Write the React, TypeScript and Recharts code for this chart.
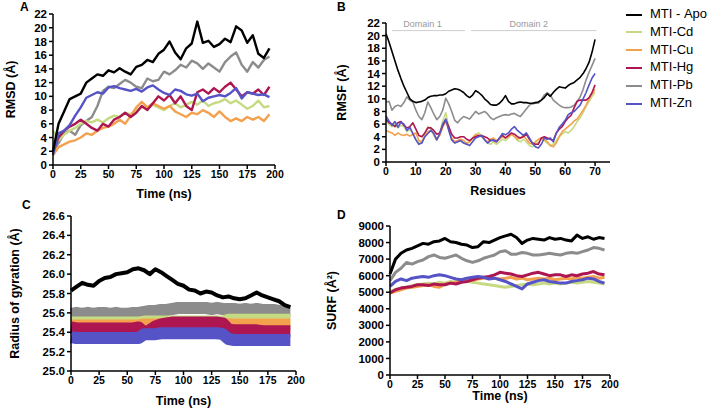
import { LineChart, Line, XAxis, YAxis, Legend, ReferenceLine } from 'recharts';

const FONT = '"Liberation Sans", Arial, Helvetica, sans-serif';

// simulation time (ns) for RMSD, Rg and SURF panels
const TIME_NS = [
  0, 5, 10, 15, 20, 25, 30, 35, 40, 45, 50, 55, 60, 65, 70, 75, 80, 85, 90, 95,
  100, 105, 110, 115, 120, 125, 130, 135, 140, 145, 150, 155, 160, 165, 170, 175, 180, 185, 190, 195,
];

// residue index for RMSF panel
const RESIDUES = [
  0, 1, 2, 3, 4, 5, 6, 7, 8, 9, 10, 11, 12, 13, 14, 15, 16, 17, 18, 19, 20, 21, 22, 23, 24, 25,
  26, 27, 28, 29, 30, 31, 32, 33, 34, 35, 36, 37, 38, 39, 40, 41, 42, 43, 44, 45, 46, 47, 48, 49,
  50, 51, 52, 53, 54, 55, 56, 57, 58, 59, 60, 61, 62, 63, 64, 65, 66, 67, 68, 69, 70,
];

// A: RMSD (Å)
const RMSD_APO = [2.0, 6.0, 7.8, 9.6, 10.0, 10.4, 12.0, 12.6, 13.2, 13.0, 13.8, 13.5, 14.1, 13.6, 13.2, 14.3, 14.6, 15.3, 15.0, 16.2, 16.8, 18.0, 16.4, 15.4, 17.0, 17.7, 20.9, 17.8, 18.1, 17.2, 17.6, 18.4, 17.9, 20.2, 19.6, 17.8, 18.9, 16.2, 15.6, 17.0];
const RMSD_CD = [5.0, 3.6, 4.4, 5.0, 5.4, 6.0, 6.4, 6.2, 6.6, 6.2, 6.8, 7.2, 7.0, 7.6, 7.4, 8.0, 8.4, 8.2, 8.8, 8.4, 8.0, 8.6, 9.0, 8.4, 8.8, 9.2, 8.8, 9.4, 8.6, 9.0, 9.2, 9.6, 9.0, 9.4, 8.8, 8.2, 8.6, 9.4, 8.4, 8.6];
const RMSD_CU = [1.4, 2.6, 3.0, 3.4, 3.6, 4.0, 4.6, 4.4, 5.0, 5.4, 5.6, 6.0, 6.6, 6.0, 7.2, 8.4, 9.2, 8.4, 9.0, 8.6, 8.2, 8.6, 7.8, 7.4, 7.0, 7.6, 7.4, 8.0, 7.6, 7.0, 7.8, 7.0, 6.4, 6.8, 6.4, 7.0, 6.6, 7.0, 6.4, 7.4];
const RMSD_HG = [2.0, 4.0, 5.0, 5.6, 6.0, 6.6, 6.0, 5.4, 5.0, 6.0, 5.6, 6.6, 7.0, 7.6, 7.0, 7.6, 8.6, 8.0, 9.0, 10.0, 9.4, 10.2, 9.0, 10.0, 8.6, 8.0, 10.6, 11.0, 10.4, 11.2, 10.6, 11.4, 12.0, 11.0, 10.0, 10.6, 10.4, 11.0, 10.2, 11.4];
const RMSD_PB = [2.0, 3.2, 4.6, 5.0, 4.4, 5.8, 6.4, 7.0, 8.6, 10.8, 11.4, 11.2, 11.8, 12.4, 12.0, 11.4, 11.2, 12.6, 12.2, 12.4, 13.6, 13.2, 13.8, 14.6, 14.2, 15.2, 14.8, 14.0, 14.8, 14.2, 13.6, 15.0, 15.8, 16.4, 14.6, 13.6, 15.0, 14.2, 15.3, 15.8];
const RMSD_ZN = [1.5, 4.6, 5.0, 5.8, 7.2, 8.4, 9.8, 10.2, 10.6, 10.4, 11.3, 11.5, 11.2, 11.0, 10.8, 11.1, 10.7, 11.3, 11.6, 11.0, 10.5, 10.2, 11.0, 10.8, 10.3, 10.1, 10.4, 9.3, 9.8, 10.0, 10.2, 10.0, 10.5, 11.2, 9.7, 10.6, 10.4, 10.2, 10.3, 9.9];

// B: RMSF (Å) per residue
const RMSF_APO = [20.3, 19.0, 17.5, 16.0, 14.5, 13.2, 12.0, 11.0, 10.0, 9.6, 9.4, 9.5, 9.6, 9.8, 10.2, 10.4, 10.5, 10.5, 10.6, 10.6, 10.8, 11.2, 11.4, 11.6, 11.5, 11.3, 11.0, 10.5, 10.2, 10.6, 11.3, 11.0, 10.6, 10.0, 9.6, 9.1, 9.0, 9.0, 9.3, 9.8, 10.5, 9.6, 9.2, 9.2, 9.4, 9.5, 9.4, 9.4, 9.3, 9.3, 9.4, 9.5, 9.8, 10.2, 10.8, 10.4, 11.0, 11.5, 11.9, 11.8, 11.7, 12.1, 12.4, 12.6, 13.0, 13.4, 14.0, 14.8, 15.8, 17.4, 19.4];
const RMSF_CD = [6.5, 6.0, 5.6, 6.0, 5.4, 5.8, 5.6, 4.8, 5.2, 4.5, 3.6, 3.0, 3.2, 4.5, 5.6, 5.4, 4.2, 3.4, 4.6, 6.5, 7.8, 5.5, 3.6, 3.0, 3.2, 3.4, 3.0, 2.8, 3.2, 3.6, 4.2, 4.6, 4.2, 3.6, 3.0, 2.8, 3.2, 2.8, 3.2, 3.6, 3.4, 3.8, 4.4, 4.0, 3.4, 3.2, 3.6, 3.2, 2.6, 2.4, 2.8, 3.2, 3.6, 3.4, 3.0, 2.6, 2.8, 3.4, 4.0, 4.4, 4.8, 4.6, 5.0, 5.6, 6.4, 7.0, 7.8, 8.8, 9.6, 10.4, 11.0];
const RMSF_CU = [5.0, 4.8, 4.6, 4.2, 4.6, 4.3, 4.2, 4.4, 4.1, 4.4, 4.6, 3.4, 3.2, 4.0, 4.8, 5.0, 4.5, 3.6, 4.2, 5.5, 6.5, 5.2, 3.8, 3.2, 3.4, 3.6, 3.4, 3.0, 3.2, 3.8, 4.4, 4.2, 4.0, 3.6, 3.2, 3.6, 3.8, 3.4, 3.6, 4.0, 3.8, 4.0, 4.4, 4.0, 3.6, 3.8, 4.2, 3.6, 3.0, 2.8, 3.2, 3.6, 3.8, 3.6, 3.2, 2.6, 2.4, 3.0, 4.0, 4.8, 5.2, 5.6, 6.0, 6.5, 6.8, 7.5, 8.2, 9.0, 10.0, 10.8, 11.5];
const RMSF_HG = [6.8, 6.2, 6.0, 5.6, 6.2, 6.4, 5.8, 5.4, 5.6, 6.2, 5.2, 4.2, 4.0, 4.6, 5.4, 5.4, 5.0, 4.4, 4.6, 5.8, 6.7, 5.6, 4.4, 3.8, 3.8, 4.0, 4.0, 3.6, 3.4, 3.8, 4.0, 4.2, 4.2, 4.0, 3.8, 3.4, 3.4, 3.2, 3.8, 4.2, 3.8, 4.2, 4.6, 4.4, 4.0, 3.8, 4.0, 4.4, 3.6, 3.0, 2.8, 2.8, 3.8, 4.0, 3.8, 3.6, 3.4, 4.6, 5.2, 5.6, 6.4, 7.0, 7.4, 8.6, 9.6, 9.8, 9.8, 9.8, 10.2, 11.0, 12.2];
const RMSF_PB = [9.5, 9.6, 8.2, 8.8, 9.0, 8.8, 9.4, 10.3, 9.8, 9.5, 8.2, 7.2, 6.7, 7.8, 9.5, 8.6, 7.6, 6.7, 7.2, 8.2, 10.1, 9.2, 8.0, 6.6, 6.2, 6.8, 7.2, 7.0, 6.8, 7.4, 8.0, 7.6, 7.8, 8.0, 7.6, 7.0, 6.7, 7.0, 7.2, 7.4, 7.5, 7.4, 7.6, 7.7, 7.4, 7.2, 7.8, 8.4, 9.0, 9.2, 9.3, 9.3, 9.8, 10.6, 11.0, 10.6, 9.8, 9.4, 9.0, 8.7, 8.6, 8.6, 8.7, 9.0, 9.6, 10.3, 11.5, 13.0, 14.2, 15.3, 16.4];
const RMSF_ZN = [7.3, 6.5, 5.8, 6.4, 5.5, 6.3, 6.0, 5.0, 5.5, 4.5, 3.5, 2.8, 3.0, 4.0, 4.5, 5.0, 4.5, 3.5, 4.5, 6.0, 6.8, 5.0, 3.5, 3.0, 3.2, 3.4, 3.0, 2.8, 2.6, 3.2, 3.8, 4.0, 4.2, 3.5, 3.0, 3.4, 3.5, 3.2, 3.8, 4.5, 4.3, 4.6, 5.2, 5.6, 5.0, 4.6, 4.2, 4.6, 3.8, 3.0, 2.4, 2.2, 2.8, 3.8, 3.6, 3.8, 3.2, 4.5, 5.5, 6.0, 6.6, 7.5, 7.8, 8.0, 8.5, 9.0, 10.0, 11.0, 12.2, 13.3, 14.0];

// C: radius of gyration (Å)
const RG_APO = [25.83, 25.87, 25.91, 25.89, 25.88, 25.93, 25.96, 25.97, 26.0, 26.01, 26.02, 26.05, 26.06, 26.04, 26.0, 26.05, 26.02, 25.98, 25.94, 25.9, 25.88, 25.84, 25.83, 25.8, 25.82, 25.81, 25.78, 25.76, 25.77, 25.75, 25.74, 25.75, 25.78, 25.81, 25.78, 25.76, 25.74, 25.72, 25.68, 25.66];
const RG_CD = [25.5, 25.5, 25.5, 25.5, 25.5, 25.5, 25.5, 25.5, 25.5, 25.5, 25.5, 25.5, 25.5, 25.51, 25.51, 25.51, 25.51, 25.51, 25.51, 25.51, 25.51, 25.51, 25.51, 25.51, 25.51, 25.51, 25.51, 25.51, 25.53, 25.53, 25.53, 25.53, 25.53, 25.53, 25.53, 25.53, 25.53, 25.53, 25.53, 25.53];
const RG_CU = [25.47, 25.47, 25.47, 25.47, 25.47, 25.47, 25.47, 25.47, 25.47, 25.47, 25.47, 25.47, 25.47, 25.48, 25.48, 25.48, 25.48, 25.48, 25.48, 25.48, 25.48, 25.48, 25.48, 25.48, 25.48, 25.48, 25.48, 25.48, 25.48, 25.48, 25.48, 25.48, 25.48, 25.48, 25.48, 25.48, 25.48, 25.48, 25.48, 25.48];
const RG_HG = [25.45, 25.44, 25.44, 25.44, 25.44, 25.44, 25.44, 25.44, 25.44, 25.44, 25.44, 25.44, 25.45, 25.4, 25.42, 25.46, 25.48, 25.49, 25.5, 25.5, 25.5, 25.5, 25.5, 25.5, 25.5, 25.5, 25.5, 25.49, 25.43, 25.42, 25.42, 25.42, 25.42, 25.42, 25.41, 25.41, 25.41, 25.41, 25.41, 25.41];
const RG_PB = [25.59, 25.6, 25.59, 25.6, 25.59, 25.6, 25.6, 25.59, 25.6, 25.59, 25.59, 25.6, 25.6, 25.61, 25.62, 25.62, 25.63, 25.63, 25.64, 25.65, 25.65, 25.65, 25.65, 25.65, 25.65, 25.64, 25.65, 25.64, 25.64, 25.64, 25.63, 25.64, 25.63, 25.64, 25.63, 25.63, 25.63, 25.62, 25.62, 25.62];
const RG_ZN = [25.35, 25.34, 25.34, 25.34, 25.34, 25.34, 25.34, 25.34, 25.34, 25.34, 25.34, 25.34, 25.34, 25.38, 25.38, 25.38, 25.39, 25.39, 25.39, 25.39, 25.39, 25.39, 25.39, 25.39, 25.39, 25.39, 25.39, 25.38, 25.33, 25.32, 25.32, 25.32, 25.32, 25.32, 25.32, 25.32, 25.32, 25.32, 25.32, 25.32];

// D: solvent accessible surface (Å²)
const SURF_APO = [6100, 7000, 7350, 7550, 7650, 7800, 7950, 7900, 8050, 8100, 8250, 8050, 8000, 7900, 7850, 7700, 7750, 8050, 8000, 8150, 8300, 8400, 8500, 8300, 7950, 8150, 8250, 8200, 8150, 8300, 8200, 8250, 8150, 8100, 8450, 8250, 8350, 8200, 8300, 8250];
const SURF_CD = [5050, 5150, 5250, 5300, 5400, 5450, 5500, 5550, 5500, 5600, 5550, 5650, 5600, 5700, 5650, 5600, 5550, 5500, 5450, 5400, 5350, 5300, 5350, 5400, 5450, 5500, 5450, 5500, 5550, 5500, 5550, 5500, 5550, 5600, 5550, 5600, 5650, 5600, 5550, 5500];
const SURF_CU = [4950, 5050, 5150, 5250, 5300, 5350, 5400, 5450, 5350, 5300, 5500, 5550, 5600, 5750, 5800, 5700, 5800, 5850, 5900, 5850, 5800, 5850, 5900, 5800, 5850, 5750, 5800, 5850, 5800, 5850, 5750, 5800, 5850, 5800, 5900, 5850, 5900, 5950, 5850, 5900];
const SURF_HG = [4950, 5150, 5250, 5300, 5350, 5450, 5450, 5400, 5500, 5450, 5450, 5550, 5500, 5600, 5650, 5750, 5850, 5900, 5950, 6050, 6200, 6150, 6100, 6000, 5950, 6050, 6150, 6200, 6100, 6000, 6050, 6050, 5950, 6050, 6000, 6100, 6150, 6250, 6100, 6050];
const SURF_PB = [5700, 6200, 6450, 6800, 6700, 6850, 6950, 7150, 7250, 7100, 7050, 7150, 7250, 7050, 6900, 6800, 6900, 7050, 7150, 7250, 7450, 7500, 7300, 7300, 7400, 7350, 7250, 7250, 7300, 7350, 7300, 7250, 7350, 7400, 7350, 7450, 7550, 7700, 7650, 7550];
const SURF_ZN = [5350, 5650, 5800, 5700, 5850, 5900, 5950, 5900, 6000, 6050, 6000, 5900, 5800, 5750, 5850, 5900, 5950, 5900, 5800, 5850, 5750, 5650, 5500, 5350, 5200, 5500, 5600, 5700, 5750, 5650, 5600, 5550, 5550, 5650, 5700, 5750, 5850, 5800, 5650, 5550];

const TIME_TICKS = [0, 25, 50, 75, 100, 125, 150, 175, 200];
const RMS_TICKS = [0, 2, 4, 6, 8, 10, 12, 14, 16, 18, 20, 22];
const RESIDUE_TICKS = [0, 10, 20, 30, 40, 50, 60, 70];
const RG_TICKS = [25.0, 25.2, 25.4, 25.6, 25.8, 26.0, 26.2, 26.4, 26.6];
const SURF_TICKS = [0, 1000, 2000, 3000, 4000, 5000, 6000, 7000, 8000, 9000];

// drawing order: gray first, black last
const SERIES = [
  { key: 'pb', name: 'MTI-Pb', color: '#8c8c8c' },
  { key: 'cd', name: 'MTI-Cd', color: '#c6da82' },
  { key: 'cu', name: 'MTI-Cu', color: '#f4a14e' },
  { key: 'hg', name: 'MTI-Hg', color: '#ad1650' },
  { key: 'zn', name: 'MTI-Zn', color: '#5653c6' },
  { key: 'apo', name: 'MTI\u00a0-\u00a0Apo', color: '#000000' },
];
const LEGEND_ORDER = ['MTI\u00a0-\u00a0Apo', 'MTI-Cd', 'MTI-Cu', 'MTI-Hg', 'MTI-Pb', 'MTI-Zn'];

function buildRows(xKey: string, xs: number[], cols: Record<string, number[]>) {
  return xs.map((x, i) => {
    const row: Record<string, number> = { [xKey]: x };
    Object.keys(cols).forEach((k) => {
      row[k] = cols[k][i];
    });
    return row;
  });
}

const rmsdRows = buildRows('t', TIME_NS, { apo: RMSD_APO, cd: RMSD_CD, cu: RMSD_CU, hg: RMSD_HG, pb: RMSD_PB, zn: RMSD_ZN });
const rmsfRows = buildRows('r', RESIDUES, { apo: RMSF_APO, cd: RMSF_CD, cu: RMSF_CU, hg: RMSF_HG, pb: RMSF_PB, zn: RMSF_ZN });
const rgRows = buildRows('t', TIME_NS, { apo: RG_APO, cd: RG_CD, cu: RG_CU, hg: RG_HG, pb: RG_PB, zn: RG_ZN });
const surfRows = buildRows('t', TIME_NS, { apo: SURF_APO, cd: SURF_CD, cu: SURF_CU, hg: SURF_HG, pb: SURF_PB, zn: SURF_ZN });

const xTick = { fill: '#000', fontSize: 10.5, fontWeight: 700, fontFamily: FONT };
const yTick = { fill: '#000', fontSize: 11.5, fontWeight: 700, fontFamily: FONT };
const axisStroke = { stroke: '#000', strokeWidth: 1.5 };
const titleStyle = { fill: '#000', fontSize: 12.5, fontWeight: 700, fontFamily: FONT };

function yTitle(value: string, offset: number) {
  return { value, angle: -90, position: 'insideLeft' as const, offset, textAnchor: 'middle', style: titleStyle };
}

function xTitle(value: string, offset: number) {
  return { value, position: 'insideBottom' as const, offset, style: titleStyle };
}

function timeAxis(height: number, labelOffset: number) {
  return (
    <XAxis
      type="number"
      dataKey="t"
      domain={[0, 200]}
      ticks={TIME_TICKS}
      interval={0}
      height={height}
      tick={xTick}
      tickSize={4}
      tickMargin={2}
      axisLine={axisStroke}
      tickLine={axisStroke}
      label={xTitle('Time (ns)', labelOffset)}
    />
  );
}

function valueAxis(domain: [number, number], ticks: number[], width: number, title: string, offset: number, digits?: number) {
  return (
    <YAxis
      type="number"
      domain={domain}
      ticks={ticks}
      interval={0}
      width={width}
      tick={yTick}
      tickSize={4}
      tickMargin={2}
      tickFormatter={digits ? (v: number) => v.toFixed(digits) : undefined}
      axisLine={axisStroke}
      tickLine={axisStroke}
      label={yTitle(title, offset)}
    />
  );
}

function seriesLines(width: number) {
  return SERIES.map((s) => (
    <Line
      key={s.key}
      type="linear"
      dataKey={s.key}
      name={s.name}
      stroke={s.color}
      strokeWidth={s.key === 'apo' && width > 6 ? 4 : width}
      strokeLinejoin="round"
      dot={false}
      legendType="plainline"
      isAnimationActive={false}
    />
  ));
}

const letter = (x: number, y: number, text: string) => (
  <span
    style={{
      position: 'absolute',
      left: x,
      top: y,
      fontFamily: FONT,
      fontWeight: 700,
      fontSize: 12,
      lineHeight: 1,
      color: '#000',
    }}
  >
    {text}
  </span>
);

export default function App() {
  return (
    <div style={{ position: 'absolute', left: 0, top: 0, width: 709, height: 414, background: '#fff', overflow: 'hidden' }}>
      {/* A: RMSD */}
      <div style={{ position: 'absolute', left: 0, top: 0 }}>
        <LineChart width={290} height={205} data={rmsdRows} margin={{ top: 14, right: 15, bottom: 0, left: 0 }}>
          {timeAxis(40, 7)}
          {valueAxis([0, 22], RMS_TICKS, 53, 'RMSD (Å)', 11)}
          {seriesLines(2.4)}
        </LineChart>
      </div>

      {/* B: RMSF */}
      <div style={{ position: 'absolute', left: 300, top: 0 }}>
        <LineChart width={409} height={205} data={rmsfRows} margin={{ top: 23, right: 9, bottom: 0, left: 0 }}>
          <XAxis
            type="number"
            dataKey="r"
            domain={[0, 75]}
            ticks={RESIDUE_TICKS}
            interval={0}
            height={43}
            tick={xTick}
            tickSize={4}
            tickMargin={2}
            axisLine={axisStroke}
            tickLine={axisStroke}
            label={xTitle('Residues', 10)}
          />
          {valueAxis([0, 22], RMS_TICKS, 86, 'RMSF (Å)', 41.7)}
          <ReferenceLine
            segment={[{ x: 2, y: 20.8 }, { x: 26.5, y: 20.8 }]}
            stroke="#cfcfcf"
            strokeWidth={1}
            label={{ value: 'Domain 1', position: 'top', offset: 4, dx: -6, fill: '#9a9a9a', fontSize: 9, fontFamily: FONT }}
          />
          <ReferenceLine
            segment={[{ x: 28.5, y: 20.8 }, { x: 70.5, y: 20.8 }]}
            stroke="#cfcfcf"
            strokeWidth={1}
            label={{ value: 'Domain 2', position: 'top', offset: 4, dx: -5, fill: '#9a9a9a', fontSize: 9, fontFamily: FONT }}
          />
          {seriesLines(1.6)}
          <Legend
            layout="vertical"
            align="right"
            verticalAlign="top"
            iconType="plainline"
            iconSize={16}
            width={90}
            itemSorter={(item: any) => LEGEND_ORDER.indexOf(item.value)}
            wrapperStyle={{ left: 326, top: 5, width: 90, whiteSpace: 'nowrap', lineHeight: '17.8px', fontSize: 13, fontFamily: FONT }}
            formatter={(value: string) => <span style={{ color: '#000', marginLeft: 4, whiteSpace: 'nowrap' }}>{value}</span>}
          />
        </LineChart>
      </div>

      {/* C: radius of gyration */}
      <div style={{ position: 'absolute', left: 0, top: 205 }}>
        <LineChart width={310} height={209} data={rgRows} margin={{ top: 11, right: 14, bottom: 0, left: 0 }}>
          {timeAxis(43, 9)}
          {valueAxis([25.0, 26.6], RG_TICKS, 71, 'Radius of gyration (Å)', 15, 1)}
          {seriesLines(12)}
        </LineChart>
      </div>

      {/* D: SURF */}
      <div style={{ position: 'absolute', left: 310, top: 205 }}>
        <LineChart width={320} height={209} data={surfRows} margin={{ top: 21, right: 20, bottom: 0, left: 0 }}>
          {timeAxis(39, 14)}
          {valueAxis([0, 9000], SURF_TICKS, 80, 'SURF (Å²)', 21.7)}
          {seriesLines(3)}
        </LineChart>
      </div>

      {letter(20, 1, 'A')}
      {letter(337, 1, 'B')}
      {letter(22, 199, 'C')}
      {letter(337, 209, 'D')}
    </div>
  );
}
